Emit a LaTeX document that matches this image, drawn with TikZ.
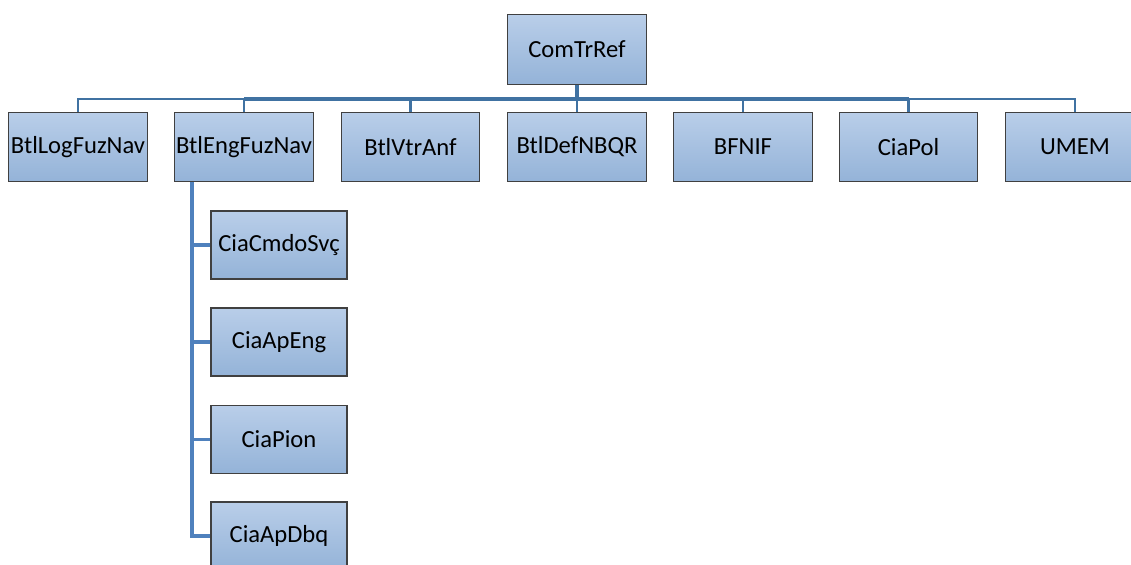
\documentclass[tikz,border=0pt]{standalone}
\usepackage{fontspec}
\setmainfont{Carlito}
\usepackage{tikz}

\definecolor{boxtop}{RGB}{185,206,233}
\definecolor{boxbot}{RGB}{148,179,216}
\definecolor{boxline}{RGB}{64,64,64}
\definecolor{busline}{RGB}{64,114,162}
\definecolor{subline}{RGB}{79,129,189}

\begin{document}
\begin{tikzpicture}[
  unit/.style={draw=boxline,line width=0.7pt,top color=boxtop,bottom color=boxbot,
    minimum width=2.77cm,minimum height=1.39cm,inner sep=0pt,
    font=\fontsize{14}{17}\selectfont},
  subunit/.style={unit,minimum width=2.72cm,minimum height=1.36cm},
  bus/.style={draw=busline,line width=2.4pt},
  thinbus/.style={draw=busline,line width=1.5pt},
  sub/.style={draw=subline,line width=2.2pt}]
\useasboundingbox (0,0) rectangle (22.62,-11.30);

\node[unit] (CTR) at (11.54,-0.99) {ComTrRef};
\coordinate (hub) at (11.54,-1.98);

\node[unit] (BLFN) at (1.56,-2.94) {BtlLogFuzNav};
\node[unit] (BEFN) at (4.88,-2.94) {BtlEngFuzNav};
\node[unit] (BVA) at (8.21,-2.94) {BtlVtrAnf};
\node[unit] (BDN) at (11.54,-2.94) {BtlDefNBQR};
\node[unit] (BFNIF) at (14.86,-2.94) {BFNIF};
\node[unit] (CPol) at (18.17,-2.94) {CiaPol};
\node[unit] (UMEM) at (21.50,-2.94) {UMEM};

\node[subunit] (CCS) at (5.58,-4.90) {CiaCmdoSvç};
\node[subunit] (CAE) at (5.58,-6.84) {CiaApEng};
\node[subunit] (CPi) at (5.58,-8.79) {CiaPion};
\node[subunit] (CAD) at (5.58,-10.72) {CiaApDbq};

\draw[bus] (CTR.south) -- (hub);
\draw[bus] (BEFN.north |- hub) -- (CPol.north |- hub);
\foreach \n in {BLFN,BEFN,BVA,BDN,BFNIF,CPol,UMEM}
  \draw[thinbus] (hub) -| (\n.north);

\foreach \n in {CCS,CAE,CPi,CAD}
  \draw[sub] ([xshift=0.36cm]BEFN.south west) |- (\n.west);
\end{tikzpicture}
\end{document}
